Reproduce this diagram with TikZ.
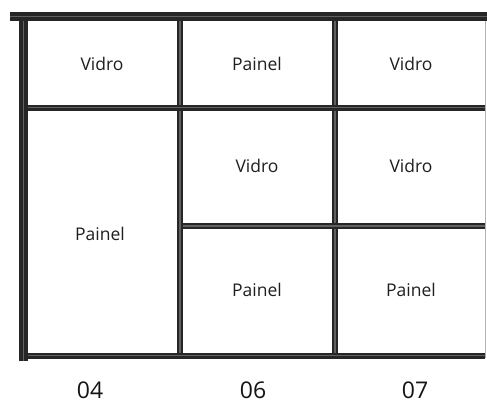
\documentclass[tikz,border=0pt]{standalone}
\usepackage{fontspec}
\setmainfont{Open Sans}
\begin{document}
\begin{tikzpicture}[x=1pt,y=-1pt,
  bar/.style={line width=6pt,draw=black!85},
  barthick/.style={line width=8.5pt,draw=black!85},
  stripe/.style={line width=1.2pt,draw=black!62},
  cell/.style={font=\fontsize{17.5}{19}\selectfont,text=black!88,inner sep=0pt},
  num/.style={font=\fontsize{23}{25}\selectfont,text=black!92,inner sep=0pt}]
\useasboundingbox[fill=white] (0,0) rectangle (487,404);
% frame coordinates
\coordinate (tl) at (10,16.5);
\coordinate (tr) at (487,16.5);
\coordinate (lt) at (23.5,21);
\coordinate (lb) at (23.5,361);
\coordinate (v1t) at (180,21);
\coordinate (v1b) at (180,358);
\coordinate (v2t) at (335,21);
\coordinate (v2b) at (335,358);
\coordinate (h1l) at (28,107.5);
\coordinate (h1r) at (485,107.5);
\coordinate (h2l) at (183,226);
\coordinate (h2r) at (485,226);
\coordinate (h3l) at (28,355.5);
\coordinate (h3r) at (485,355.5);
\coordinate (rt) at (485,21);
\coordinate (rb) at (485,358);
% right thin edge
\draw[line width=0.8pt,black!30] (rt) -- (rb);
% bars
\draw[barthick] (tl) -- (tr);
\draw[stripe] (tl) -- (tr);
\draw[barthick] (lt) -- (lb);
\draw[stripe] (lt) -- (lb);
\foreach \a/\b in {v1t/v1b,v2t/v2b,h1l/h1r,h2l/h2r,h3l/h3r}{
  \draw[bar] (\a) -- (\b);
  \draw[stripe] (\a) -- (\b);
}
% labels
\node[cell] (c11) at (102,64) {Vidro};
\node[cell] (c12) at (257,64) {Painel};
\node[cell] (c13) at (411,64) {Vidro};
\node[cell] (c22) at (257,166) {Vidro};
\node[cell] (c23) at (411,166) {Vidro};
\node[cell] (c21) at (100,234) {Painel};
\node[cell] (c32) at (257,290) {Painel};
\node[cell] (c33) at (411,290) {Painel};
\node[num] (n1) at (90,390) {04};
\node[num] (n2) at (253,390) {06};
\node[num] (n3) at (415,390) {07};
\end{tikzpicture}
\end{document}
